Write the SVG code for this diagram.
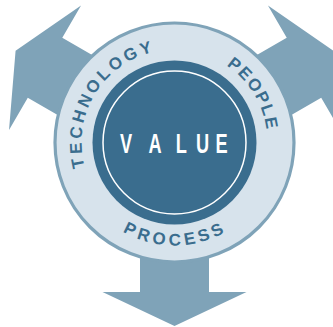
<svg xmlns="http://www.w3.org/2000/svg" xmlns:xlink="http://www.w3.org/1999/xlink" width="333" height="327" viewBox="0 0 333 327">
  <style>
    .arrow { fill: #7fa3b8; }
    .ring { fill: #d7e3ec; stroke: #7fa3b8; stroke-width: 3.2; }
    .core { fill: #3a6d8e; }
    .inner { fill: none; stroke: #ffffff; stroke-width: 1.5; }
    .label { font-family: "Liberation Sans", Arial, sans-serif; font-weight: bold; font-size: 17px; fill: #3a6d8e; }
    .value { font-family: "Liberation Sans", Arial, sans-serif; font-weight: bold; font-size: 28px; fill: #ffffff; }
  </style>
  <defs>
    <path id="arrowShape" d="M -34.5 60 L 34.5 60 L 34.5 149.5 L 72 149.5 L 0 183.5 L -72 149.5 L -34.5 149.5 Z"/>
    <path id="pTech" d="M 140.42 229.03 A 93 93 0 1 1 236.12 72.84"/>
    <path id="pPeople" d="M 112.88 72.84 A 93 93 0 1 1 208.58 229.03"/>
    <path id="pProcess" d="M 72.91 125.5 A 103 103 0 1 0 275.78 123.73"/>
  </defs>
  <g id="connectors" transform="translate(174.5,142.5)">
    <use xlink:href="#arrowShape" class="arrow"/>
    <use xlink:href="#arrowShape" class="arrow" transform="rotate(120)"/>
    <use xlink:href="#arrowShape" class="arrow" transform="rotate(240)"/>
  </g>
  <g id="ring">
    <circle cx="174.5" cy="142.5" r="119.5" class="ring"/>
    <text class="label" letter-spacing="3.2" text-anchor="middle"><textPath xlink:href="#pTech" startOffset="50%">TECHNOLOGY</textPath></text>
    <text class="label" letter-spacing="1.8" text-anchor="middle"><textPath xlink:href="#pPeople" startOffset="50%">PEOPLE</textPath></text>
    <text class="label" letter-spacing="3.9" text-anchor="middle"><textPath xlink:href="#pProcess" startOffset="50%">PROCESS</textPath></text>
  </g>
  <g id="value">
    <circle cx="174.5" cy="142.5" r="82" class="core"/>
    <circle cx="174.5" cy="142.5" r="71.5" class="inner"/>
    <text class="value" text-anchor="middle" transform="translate(174.5,153.3) scale(0.65,1)" x="-74.6 -30 10.3 43.1 72.6" y="0">VALUE</text>
  </g>
</svg>
